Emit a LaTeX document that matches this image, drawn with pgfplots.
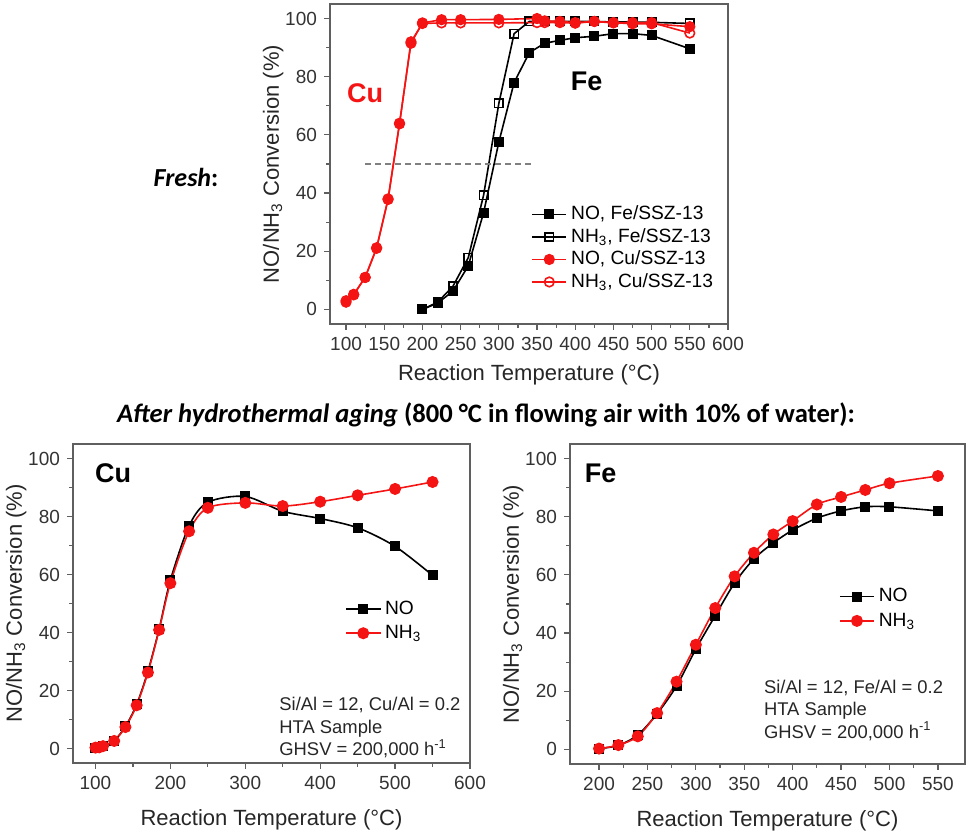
\documentclass[border=0pt]{standalone}
\usepackage{fontspec}
\setmainfont{Liberation Sans}
\newfontfamily\calib{Carlito}
\usepackage{pgfplots}
\pgfplotsset{compat=1.18}

\definecolor{cred}{RGB}{245,20,20}
\definecolor{axgray}{RGB}{95,95,95}

\pgfplotsset{
  panel/.style={
    scale only axis,
    axis line style={axgray, line width=0.7pt},
    tick style={axgray, line width=0.6pt},
    tick align=outside, xtick pos=bottom, ytick pos=left,
    major tick length=3pt, minor tick length=2pt,
    ymin=-5, ymax=105, ytick={0,20,...,100}, minor y tick num=1,
    tick label style={font=\fontsize{9.5}{11}\selectfont, text=black!80},
    label style={font=\fontsize{11}{13}\selectfont, text=black!85},
    ylabel shift=-6pt,
    /pgf/number format/assume math mode=true,
    xlabel={Reaction Temperature (°C)},
    ylabel={NO/NH\textsubscript{3} Conversion (\%)},
    legend cell align=left,
    legend style={draw=none, fill=none, font=\fontsize{9.6}{11}\selectfont,
      nodes={inner xsep=2pt}},
  },
  feno/.style={black, line width=0.8pt, mark=square*, mark size=2.1pt},
  fenh/.style={black, line width=0.8pt, mark=square, mark size=2.1pt, mark options={fill=white}},
  cuno/.style={cred, line width=0.8pt, mark=*, mark size=2.4pt},
  cunh/.style={cred, line width=0.8pt, mark=o, mark size=2.4pt, mark options={fill=white}},
}
\tikzset{
  biglabel/.style={font=\bfseries\fontsize{13.5}{15}\selectfont},
  note/.style={anchor=north west, align=left, inner sep=0pt,
    font=\fontsize{9.2}{11.2}\selectfont, text=black!85},
}

\begin{document}
\begin{tikzpicture}
\useasboundingbox (0,0) rectangle (487.5pt,419.5pt);

% fresh catalysts
\begin{axis}[panel, at={(165pt,257.5pt)}, anchor=south west,
  width=199pt, height=160pt,
  xmin=79, xmax=600, xtick={100,150,...,600}, minor x tick num=1,
  legend style={at={(0.49,0.395)}, anchor=north west, row sep=-1.2pt}]
\addplot[feno] coordinates {
(200,0)(220,2.2)(240,6.3)(260,15)(280,33.2)(300,57.5)(320,78)(340,88.3)(360,91.5)
(380,92.5)(400,93.4)(425,93.9)(450,94.8)(475,94.8)(500,94.2)(550,89.6)};
\addlegendentry{NO, Fe/SSZ-13}
\addplot[fenh] coordinates {
(200,0)(220,2.5)(240,8)(260,17.8)(280,39.2)(300,70.8)(320,94.8)(340,99)(360,99)
(380,99)(400,99)(425,99)(450,98.8)(475,98.8)(500,98.7)(550,98.3)};
\addlegendentry{NH\textsubscript{3}, Fe/SSZ-13}
\addplot[cuno] coordinates {
(100,2.5)(110,5)(125,11)(140,21)(155,38)(170,64)(185,91.5)(200,98.5)(225,99.6)
(250,99.6)(300,99.7)(350,100)(360,99.2)(380,99)(400,98.6)(425,99)(450,98.6)
(475,98.2)(500,98.2)(550,97.2)};
\addlegendentry{NO, Cu/SSZ-13}
\addplot[cunh] coordinates {
(100,3)(110,5.2)(125,11)(140,21.2)(155,37.8)(170,63.8)(185,92)(200,98.3)(225,98.5)
(250,98.5)(300,98.5)(350,98.6)(360,98.6)(380,98.6)(400,98.4)(425,99)(450,98.5)
(475,98.6)(500,98.6)(550,95)};
\addlegendentry{NH\textsubscript{3}, Cu/SSZ-13}
\draw[gray, densely dashed, line width=0.6pt] (axis cs:125,50) -- (axis cs:345,50);
\node[cred, biglabel] at (axis cs:125,74.5) {Cu};
\node[black, biglabel] at (axis cs:415,78.5) {Fe};
\end{axis}

\node[font=\calib\bfseries\fontsize{13}{15}\selectfont] at (93pt,331pt) {\textit{Fresh}:};
\node[font=\calib\bfseries\fontsize{13.3}{15}\selectfont] at (243pt,212pt)
  {\textit{After hydrothermal aging} (800 °C in flowing air with 10\% of water):};

% aged Cu
\begin{axis}[panel, at={(36.5pt,38pt)}, anchor=south west,
  width=198.5pt, height=159.5pt, xlabel shift=3pt,
  xmin=70, xmax=600, xtick={100,200,...,600}, minor x tick num=1,
  legend style={at={(0.67,0.535)}, anchor=north west, row sep=0pt}]
\addplot[black, line width=0.8pt, mark=square*, mark size=2.1pt, smooth] coordinates {
(100,0.3)(105,0.4)(110,0.8)(125,2.7)(140,7.6)(155,15.2)(170,26.6)(185,41.2)(200,58)
(225,76.8)(250,84.9)(300,86.9)(350,81.8)(400,79.3)(450,76.1)(500,69.7)(550,59.7)};
\addlegendentry{NO}
\addplot[cred, line width=0.8pt, mark=*, mark size=2.6pt, smooth] coordinates {
(100,0.3)(105,0.4)(110,0.8)(125,2.6)(140,7.4)(155,14.9)(170,26.2)(185,40.9)(200,57)
(225,74.9)(250,83)(300,84.7)(350,83.6)(400,85.1)(450,87.3)(500,89.5)(550,91.9)};
\addlegendentry{NH\textsubscript{3}}
\node[anchor=west, biglabel, inner sep=0pt] at (axis cs:99,95) {Cu};
\node[note] at (axis cs:345,17.7)
  {Si/Al = 12, Cu/Al = 0.2\\HTA Sample\\GHSV = 200,000 h\textsuperscript{-1}};
\end{axis}

% aged Fe
\begin{axis}[panel, at={(285pt,37.5pt)}, anchor=south west,
  width=197.5pt, height=160pt, xlabel shift=3pt,
  xmin=170, xmax=578, xtick={200,250,...,550}, minor x tick num=1,
  legend style={at={(0.665,0.575)}, anchor=north west, row sep=0pt}]
\addplot[black, line width=0.8pt, mark=square*, mark size=2.1pt, smooth] coordinates {
(200,0.3)(220,1.4)(240,5)(260,12.3)(280,21.8)(300,34.5)(320,46)(340,57.2)(360,65.5)
(380,71)(400,75.4)(425,79.5)(450,82)(475,83.4)(500,83.4)(550,82)};
\addlegendentry{NO}
\addplot[cred, line width=0.8pt, mark=*, mark size=2.6pt, smooth] coordinates {
(200,0.3)(220,1.5)(240,4.5)(260,12.5)(280,23.3)(300,36)(320,48.6)(340,59.5)(360,67.6)
(380,73.9)(400,78.5)(425,84.2)(450,86.8)(475,89.2)(500,91.5)(550,94)};
\addlegendentry{NH\textsubscript{3}}
\node[anchor=west, biglabel, inner sep=0pt] at (axis cs:185,95) {Fe};
\node[note] at (axis cs:370,24)
  {Si/Al = 12, Fe/Al = 0.2\\HTA Sample\\GHSV = 200,000 h\textsuperscript{-1}};
\end{axis}
\end{tikzpicture}
\end{document}
